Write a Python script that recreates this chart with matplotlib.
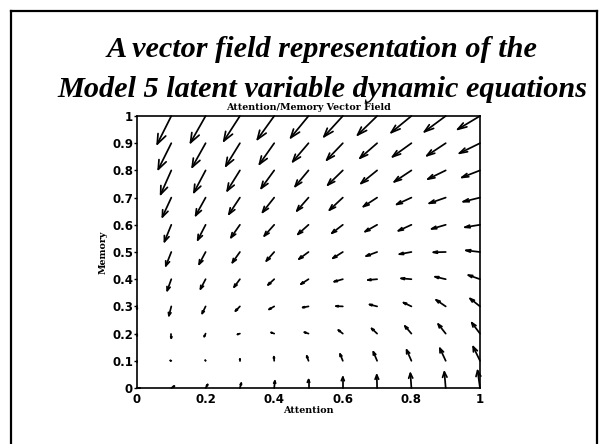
import numpy as np
import matplotlib
matplotlib.use("Agg")
import matplotlib.pyplot as plt
from matplotlib.collections import LineCollection
from matplotlib.lines import Line2D

# ---- data (arrows already in axis units) ----
attention = [0.0, 0.1, 0.2, 0.3, 0.4, 0.5, 0.6, 0.7, 0.8, 0.9, 1.0]
memory = [0.0, 0.1, 0.2, 0.3, 0.4, 0.5, 0.6, 0.7, 0.8, 0.9, 1.0]

# rows: memory 0.0 -> 1.0 ; columns: attention 0.0 -> 1.0
U = [
    [0.009, 0.009, 0.006, 0.004, 0.002, 0.000, 0.000, -0.001, -0.003, -0.004, -0.007],
    [0.000, -0.003, -0.001, 0.000, -0.001, -0.005, -0.008, -0.011, -0.014, -0.017, -0.020],
    [0.000, 0.000, -0.004, -0.007, -0.009, -0.012, -0.013, -0.016, -0.019, -0.022, -0.024],
    [0.000, -0.007, -0.010, -0.013, -0.015, -0.017, -0.020, -0.022, -0.023, -0.028, -0.029],
    [0.000, -0.012, -0.015, -0.017, -0.018, -0.022, -0.025, -0.027, -0.030, -0.031, -0.034],
    [0.000, -0.016, -0.019, -0.022, -0.023, -0.028, -0.029, -0.032, -0.035, -0.036, -0.041],
    [0.000, -0.020, -0.023, -0.026, -0.029, -0.031, -0.032, -0.035, -0.038, -0.041, -0.044],
    [0.000, -0.026, -0.029, -0.032, -0.034, -0.034, -0.039, -0.040, -0.043, -0.048, -0.049],
    [0.000, -0.031, -0.034, -0.037, -0.038, -0.039, -0.044, -0.047, -0.050, -0.052, -0.053],
    [0.000, -0.038, -0.039, -0.041, -0.043, -0.046, -0.047, -0.050, -0.055, -0.055, -0.060],
    [0.000, -0.041, -0.044, -0.047, -0.049, -0.052, -0.055, -0.057, -0.059, -0.062, -0.065],
]
V = [
    [0.000, 0.007, 0.013, 0.018, 0.026, 0.031, 0.040, 0.048, 0.054, 0.059, 0.064],
    [-0.005, 0.001, 0.002, 0.007, 0.015, 0.018, 0.025, 0.033, 0.040, 0.046, 0.052],
    [-0.008, -0.017, -0.011, -0.003, 0.004, 0.005, 0.013, 0.019, 0.028, 0.035, 0.040],
    [-0.010, -0.034, -0.026, -0.017, -0.011, -0.004, 0.001, 0.007, 0.014, 0.024, 0.029],
    [0.000, -0.042, -0.036, -0.029, -0.021, -0.018, -0.009, -0.003, 0.003, 0.009, 0.015],
    [0.000, -0.051, -0.045, -0.039, -0.033, -0.026, -0.023, -0.015, -0.008, -0.001, 0.006],
    [0.000, -0.062, -0.056, -0.047, -0.041, -0.035, -0.031, -0.025, -0.022, -0.015, -0.009],
    [0.000, -0.071, -0.066, -0.061, -0.054, -0.049, -0.046, -0.033, -0.025, -0.021, -0.015],
    [0.000, -0.088, -0.081, -0.075, -0.066, -0.059, -0.054, -0.048, -0.042, -0.032, -0.026],
    [0.000, -0.096, -0.088, -0.084, -0.077, -0.068, -0.062, -0.055, -0.050, -0.046, -0.037],
    [0.000, -0.103, -0.098, -0.092, -0.086, -0.080, -0.076, -0.070, -0.061, -0.058, -0.049],
]

x_ticks = [0, 0.2, 0.4, 0.6, 0.8, 1]
x_tick_labels = ["0", "0.2", "0.4", "0.6", "0.8", "1"]
y_ticks = [0, 0.1, 0.2, 0.3, 0.4, 0.5, 0.6, 0.7, 0.8, 0.9, 1]
y_tick_labels = ["0", "0.1", "0.2", "0.3", "0.4", "0.5", "0.6", "0.7", "0.8", "0.9", "1"]

title_lines = ["A vector field representation of the",
               "Model 5 latent variable dynamic equations"]
plot_title = "Attention/Memory Vector Field"
x_label = "Attention"
y_label = "Memory"

# ---- figure ----
W, H = 605, 444
fig = plt.figure(figsize=(W / 100, H / 100), dpi=100)
fig.patch.set_facecolor("white")

# slide border
for (x0, y0, x1, y1) in [(11, 11, 11, 450), (11, 11, 597, 11), (597, 11, 597, 450)]:
    fig.add_artist(Line2D([x0 / W, x1 / W], [1 - y0 / H, 1 - y1 / H],
                          transform=fig.transFigure, color="black", lw=1.6))

title_font = dict(family="Liberation Serif", weight="bold", style="italic", size=21.8)
fig.text(322 / W, 1 - 57 / H, title_lines[0], ha="center", va="baseline", **title_font)
fig.text(322 / W, 1 - 97 / H, title_lines[1], ha="center", va="baseline", **title_font)

ax = fig.add_axes([137 / W, 1 - 388 / H, (480 - 137) / W, (388 - 116) / H])
ax.set_xlim(0, 1)
ax.set_ylim(0, 1)

# MATLAB-style quiver (line arrows, open heads scaled with length)
X, Y = np.meshgrid(attention, memory)
Ua = np.array(U)
Va = np.array(V)
alpha, beta = 0.33, 0.33
segs = []
for x, y, u, v in zip(X.ravel(), Y.ravel(), Ua.ravel(), Va.ravel()):
    if u == 0 and v == 0:
        continue
    tx, ty = x + u, y + v
    segs.append([(x, y), (tx, ty)])
    h1 = (tx - alpha * (u + beta * v), ty - alpha * (v - beta * u))
    h2 = (tx - alpha * (u - beta * v), ty - alpha * (v + beta * u))
    segs.append([h1, (tx, ty), h2])
ax.add_collection(LineCollection(segs, colors="black", linewidths=1.25,
                                 capstyle="round", joinstyle="round", clip_on=False))

tick_font = dict(family="DejaVu Sans", weight="bold", size=8.5)
ax.set_xticks(x_ticks)
ax.set_xticklabels(x_tick_labels, **tick_font)
ax.set_yticks(y_ticks)
ax.set_yticklabels(y_tick_labels, **tick_font)
ax.tick_params(axis="y", direction="out", length=2.5, width=1, pad=0.3)
ax.tick_params(axis="x", direction="in", length=0, pad=3.5)
for s in ax.spines.values():
    s.set_linewidth(1.2)

lab_font = dict(family="DejaVu Serif", weight="bold", size=6.8)
ax.set_title(plot_title, pad=4, **lab_font)
ax.set_xlabel(x_label, labelpad=0, **lab_font)
ax.set_ylabel(y_label, labelpad=3, **lab_font)

fig.savefig("out.png", dpi=100)
